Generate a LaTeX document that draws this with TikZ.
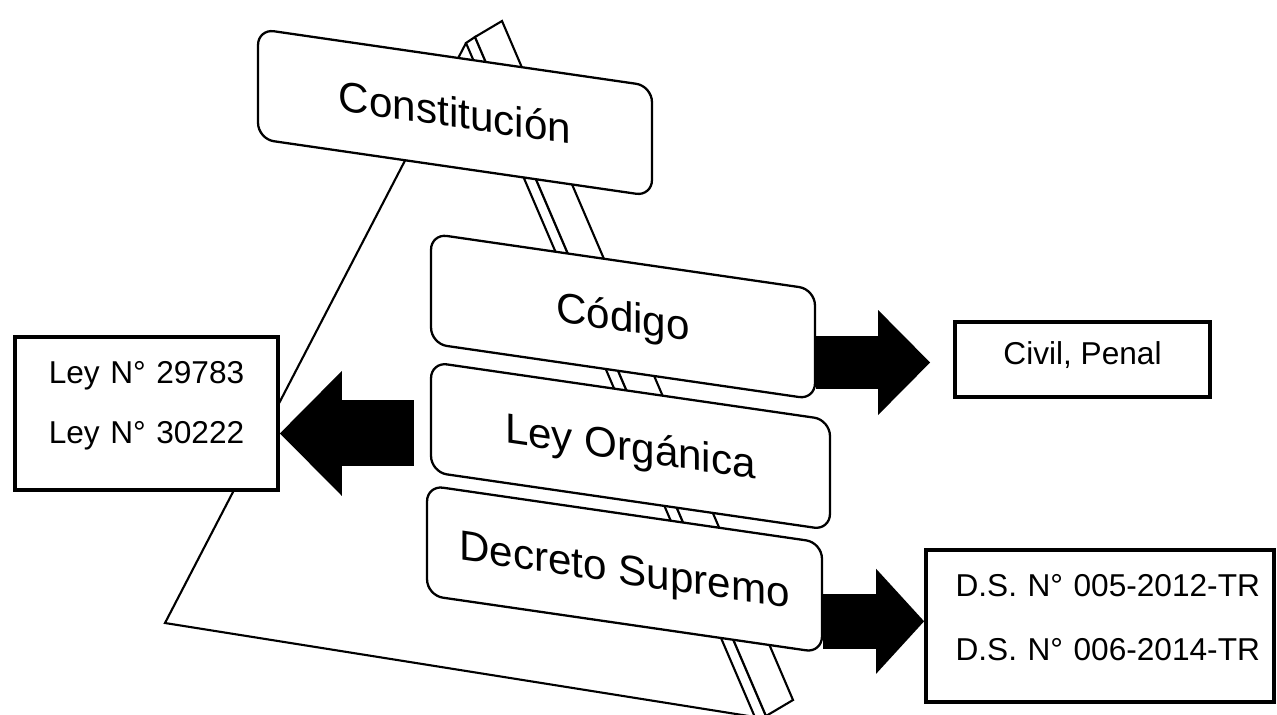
\documentclass[tikz,border=0pt]{standalone}
\usepackage{fontspec}
\setmainfont{Liberation Sans}
\usetikzlibrary{arrows.meta,calc}

\begin{document}
\begin{tikzpicture}[x=0.02cm,y=-0.02cm,
	signbox/.style={draw,line width=1.3pt,fill=white,rounded corners=0.32cm,yslant=-0.145,minimum height=2.2cm,font=\fontsize{24}{28}\selectfont,text height=17pt,text depth=0pt},
	listbox/.style={draw,line width=2.2pt,fill=white,font=\fontsize{18}{34}\selectfont,text height=12.9pt},
	bigarrow/.style n args={3}{line width=#1,-{Triangle[width=#2,length=#3,line width=0pt]}}]
		\useasboundingbox (0,0) rectangle (1277,714);
		\draw[line width=1.2pt] (466,43) -- (165,623) -- (755,717);
		\draw[line width=1.2pt,fill=white] (466,43) -- (475,37) -- (766,716) -- (757,722) -- cycle;
		\draw[line width=1.2pt,fill=white] (475,37) -- (502,21) -- (793,700) -- (766,716) -- cycle;
		\node[signbox,minimum width=7.88cm] (constitucion) at (455,112.5) {Constitución};
		\node[signbox,minimum width=7.68cm] (codigo) at (623,316.5) {Código};
		\node[signbox,minimum width=7.98cm] (organica) at (630.5,446) {Ley Orgánica};
		\node[signbox,minimum width=7.9cm] (decreto) at (624.5,569) {Decreto Supremo};
		\node[listbox,minimum width=5.1cm,minimum height=1.5cm,text depth=7.4pt] (civil) at (1082.5,359.5) {Civil, Penal};
		\node[listbox,minimum width=5.26cm,minimum height=3.06cm,text width=4.6cm,align=center,text depth=46.9pt] (leyes) at (146.5,413.5) {Ley N° 29783\\Ley N° 30222};
		\node[listbox,minimum width=6.96cm,minimum height=3.04cm,text width=6.4cm,inner xsep=0.28cm,align=right,font=\fontsize{18}{36}\selectfont,text depth=46.2pt] (ds) at (1100,626) {D.S. N° 005-2012-TR\\D.S. N° 006-2014-TR};
		\coordinate (codigo tail) at ($(codigo.east)+(0,18)$);
		\coordinate (organica tail) at ($(organica.west)+(-16,16.5)$);
		\coordinate (decreto tail) at ($(decreto.east)+(0,23.5)$);
		\draw[bigarrow={1.06cm}{2.1cm}{1.04cm}] (codigo tail) -- ([xshift=-0.46cm]codigo tail -| civil.west);
		\draw[bigarrow={1.32cm}{2.5cm}{1.24cm}] (organica tail) -- (organica tail -| leyes.east);
		\draw[bigarrow={1.1cm}{2.1cm}{0.96cm}] (decreto tail) -- (decreto tail -| ds.west);
\end{tikzpicture}
\end{document}
